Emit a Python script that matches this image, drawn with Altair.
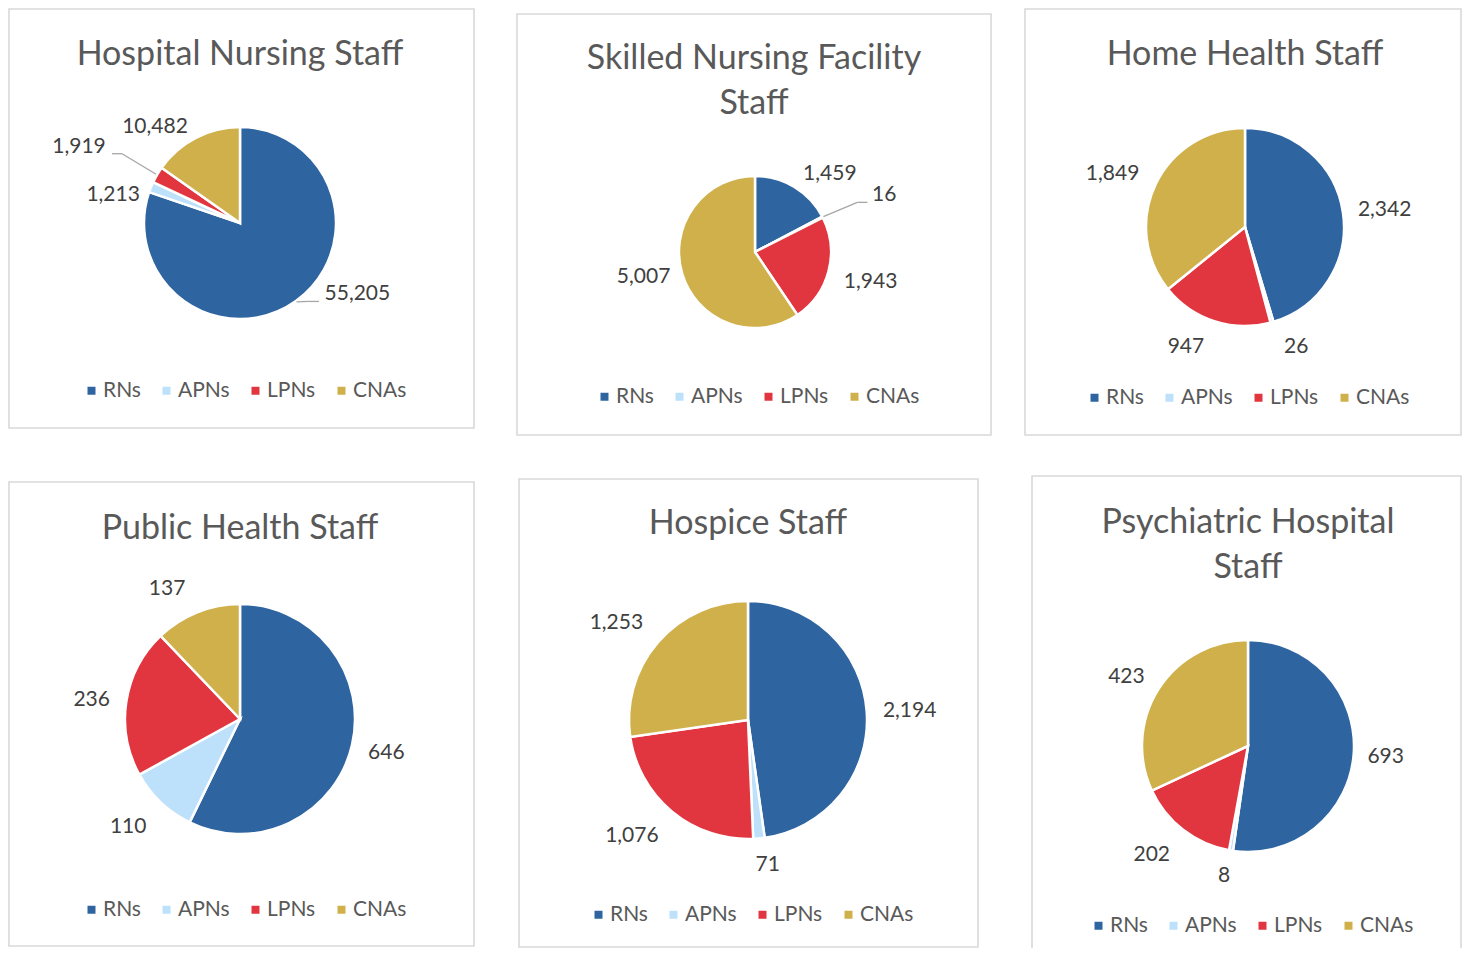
import altair as alt
import pandas as pd

# ---------------- data ----------------
categories = ["RNs", "APNs", "LPNs", "CNAs"]
colors = ["#2E64A0", "#BDE0FB", "#E1363F", "#CFB04B"]

titles = [
    ["Hospital Nursing Staff"],
    ["Skilled Nursing Facility", "Staff"],
    ["Home Health Staff"],
    ["Public Health Staff"],
    ["Hospice Staff"],
    ["Psychiatric Hospital", "Staff"],
]
hospital = [55205, 1213, 1919, 10482]
skilled_nursing = [1459, 16, 1943, 5007]
home_health = [2342, 26, 947, 1849]
public_health = [646, 110, 236, 137]
hospice = [2194, 71, 1076, 1253]
psychiatric = [693, 8, 202, 423]
series = [hospital, skilled_nursing, home_health, public_health, hospice, psychiatric]

# ---------------- layout (per panel, local pixels) ----------------
col_w = [500, 505, 449]
row_h = [460, 480]
# border box x1, x2, y1, y2
borders = [(1, 466, 1, 420), (9, 483, 6, 427), (12, 448, 1, 427),
           (1, 466, 14, 478), (11, 470, 11, 479), (19, 448, 8, 520)]
# title anchor (center x, first baseline y, line height)
title_pos = [(232, 57, 45), (246, 61, 45), (232, 57, 45),
             (232, 71, 45), (240, 66, 45), (235, 65, 45)]
# pie center and radius
pies = [(232, 215, 96), (247, 244, 76), (232, 219, 99),
        (232, 251, 115), (240, 252, 119), (235, 278, 106)]
# legend top-left
legend_pos = [(73, 372), (86, 378), (71, 379), (73, 431), (80, 436), (75, 447)]
# label nudges (dx, dy) per category
nudges = [
    [(44, -31), (-10, 19), (-52, -13), (-27, 16)],
    [(20, 13), (35, -8), (13, 3), (-10, -6)],
    [(12, 2), (16, -4), (-19, -3), (-16, 3)],
    [(5, 1), (-12, 3), (-5, 3), (-19, 5)],
    [(13, 1), (6, -3), (-21, 1), (-19, 1)],
    [(2, 1), (-2, -4), (-13, 1), (-7, 4)],
]
leaders = [[1, 0, 1, 0], [0, 1, 0, 0], [0, 0, 0, 0],
           [0, 0, 0, 0], [0, 0, 0, 0], [0, 0, 0, 0]]

FONT = "Lato"
LABEL_GAP = 30


def panel(i, w, h):
    vals = series[i]
    df = pd.DataFrame({
        "cat": categories,
        "value": vals,
        "idx": list(range(len(categories))),
        "nx": [n[0] for n in nudges[i]],
        "ny": [n[1] for n in nudges[i]],
        "leader": leaders[i],
    })
    cx, cy, r = pies[i]
    R = r + LABEL_GAP
    bx1, bx2, by1, by2 = borders[i]
    tx, ty, lh = title_pos[i]
    lx, ly = legend_pos[i]

    one = alt.Data(values=[{}])
    border = alt.Chart(one).mark_rect(
        fill="white", stroke="#d9d9d9", strokeWidth=1.6, clip=True
    ).encode(x=alt.value(bx1), x2=alt.value(bx2), y=alt.value(by1), y2=alt.value(by2))

    title = alt.Chart(one).mark_text(
        text=titles[i], font=FONT, fontSize=34, color="#595959",
        align="center", baseline="alphabetic", lineHeight=lh
    ).encode(x=alt.value(tx), y=alt.value(ty))

    base = alt.Chart(df)
    arc = base.mark_arc(radius=r, stroke="white", strokeWidth=2.5).encode(
        theta=alt.Theta("value:Q", stack=True),
        order=alt.Order("idx:Q", sort="ascending"),
        color=alt.Color(
            "cat:N",
            sort=categories,
            scale=alt.Scale(domain=categories, range=colors),
            legend=alt.Legend(
                title=None, orient="none", legendX=lx, legendY=ly,
                direction="horizontal", symbolType="square", symbolSize=64,
                symbolStrokeWidth=0, labelFont=FONT, labelFontSize=21,
                labelColor="#595959", columnPadding=15, labelOffset=1, padding=0,
            ),
        ),
        x=alt.value(cx),
        y=alt.value(cy),
    )

    geo = base.transform_joinaggregate(
        total="sum(value)"
    ).transform_window(
        cum="sum(value)", sort=[alt.SortField("idx")], frame=[None, 0]
    ).transform_calculate(
        mid="(datum.cum - datum.value / 2) / datum.total * 2 * PI",
        lab="format(datum.value, ',')",
    ).transform_calculate(
        lx=f"{cx} + {R} * sin(datum.mid) + datum.nx",
        ly=f"{cy} - {R} * cos(datum.mid) + datum.ny",
        ex=f"{cx} + {r + 1} * sin(datum.mid)",
        ey=f"{cy} - {r + 1} * cos(datum.mid)",
        side="sin(datum.mid) < 0 ? -1 : 1",
    ).transform_calculate(
        endx="datum.lx - datum.side * (length(datum.lab) * 5.4 + 6)",
        endy="datum.ly + 7",
    ).transform_calculate(
        elbx="datum.endx - datum.side * 10",
    )

    labels = geo.mark_text(font=FONT, fontSize=21, color="#404040",
                           align="center", baseline="middle").encode(
        x=alt.X("lx:Q", scale=None, axis=None),
        y=alt.Y("ly:Q", scale=None, axis=None),
        text="lab:N",
    )
    lead = geo.transform_filter("datum.leader == 1")
    seg1 = lead.mark_rule(color="#a6a6a6", strokeWidth=1.3).encode(
        x=alt.X("ex:Q", scale=None, axis=None), y=alt.Y("ey:Q", scale=None, axis=None),
        x2="elbx:Q", y2="endy:Q",
    )
    seg2 = lead.mark_rule(color="#a6a6a6", strokeWidth=1.3).encode(
        x=alt.X("elbx:Q", scale=None, axis=None), y=alt.Y("endy:Q", scale=None, axis=None),
        x2="endx:Q", y2="endy:Q",
    )

    return alt.layer(border, arc, seg1, seg2, labels, title).properties(
        width=w, height=h,
        view=alt.ViewBackground(stroke="transparent", strokeWidth=0),
    )


rows = []
for ri in range(2):
    cells = [panel(ri * 3 + ci, col_w[ci], row_h[ri]) for ci in range(3)]
    rows.append(
        alt.hconcat(*cells, spacing=0)
        .resolve_scale(color="independent")
        .resolve_legend(color="independent")
    )

chart = (
    alt.vconcat(*rows, spacing=0)
    .resolve_scale(color="independent")
    .resolve_legend(color="independent")
    .properties(padding=0)
    .configure_view(stroke="transparent", strokeWidth=0)
    .configure(background="white")
)

chart.save("out.html", embed_options={"renderer": "svg", "actions": False})
